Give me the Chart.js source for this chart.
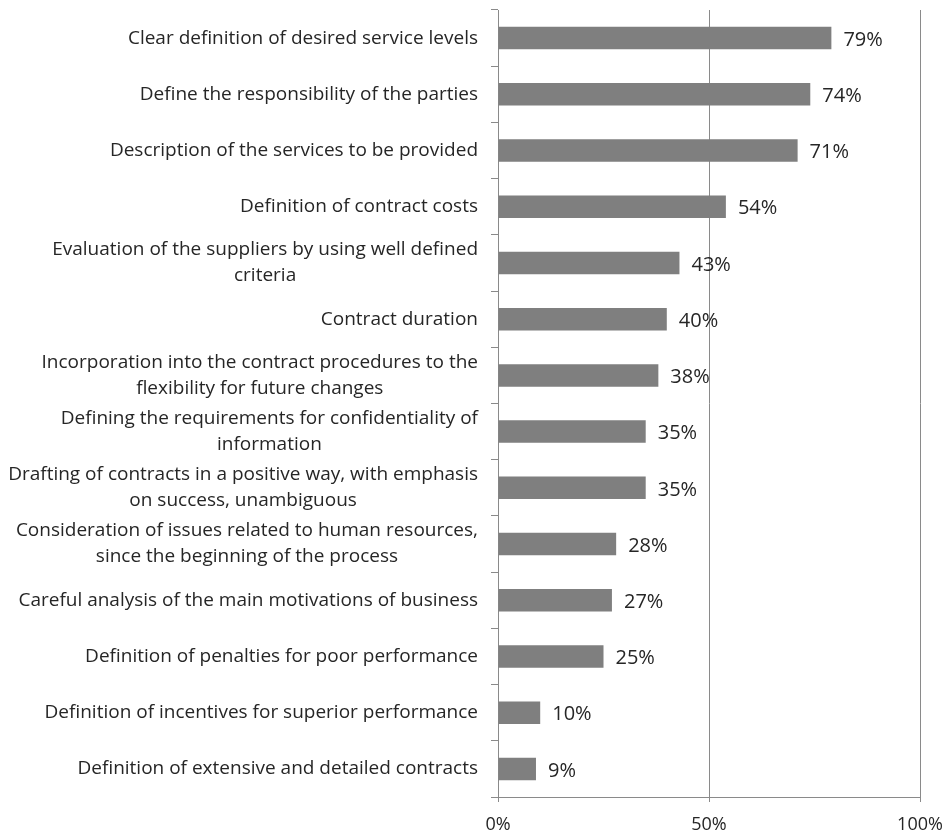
<!DOCTYPE html>
<html>
<head>
<meta charset="utf-8">
<script src="https://cdn.jsdelivr.net/npm/chart.js@4"></script>
<style>
  html, body { margin: 0; padding: 0; background: #fff; }
  #wrap { width: 952px; height: 833px; position: relative; }
</style>
</head>
<body>
<div id="wrap"><canvas id="contractChart"></canvas></div>
<script>
// categories (each entry is the lines of one label)
const categories = [
  ["Clear definition of desired service levels"],
  ["Define the responsibility of the parties"],
  ["Description of the services to be provided"],
  ["Definition of contract costs"],
  ["Evaluation of the suppliers by using well defined", "criteria"],
  ["Contract duration"],
  ["Incorporation into the contract procedures to the", "flexibility for future changes"],
  ["Defining the requirements for confidentiality of", "information"],
  ["Drafting of contracts in a positive way, with emphasis", "on success, unambiguous"],
  ["Consideration of issues related to human resources,", "since the beginning of the process"],
  ["Careful analysis of the main motivations of business"],
  ["Definition of penalties for poor performance"],
  ["Definition of incentives for superior performance"],
  ["Definition of extensive and detailed contracts"]
];
const percentValues = [79, 74, 71, 54, 43, 40, 38, 35, 35, 28, 27, 25, 10, 9];
const xTicks = [0, 50, 100];

const FONT = "'Open Sans', sans-serif";
const TEXT_COLOR = "#262626";
const LINE_COLOR = "#8a8a8a";

// draws the category labels: lines centered on each other, block right-aligned
const categoryLabels = {
  id: "categoryLabels",
  afterDraw(chart) {
    const ctx = chart.ctx;
    const yScale = chart.scales.y;
    const right = chart.chartArea.left - 20;
    const lineHeight = 26;
    ctx.save();
    ctx.font = "19px " + FONT;
    ctx.fillStyle = TEXT_COLOR;
    ctx.textAlign = "center";
    ctx.textBaseline = "middle";
    categories.forEach((lines, i) => {
      const y = yScale.getPixelForValue(i);
      const widest = Math.max(...lines.map((l) => ctx.measureText(l).width));
      const cx = right - widest / 2;
      lines.forEach((line, j) => {
        ctx.fillText(line, cx, y + (j - (lines.length - 1) / 2) * lineHeight);
      });
    });
    ctx.restore();
  },
};

// value labels right of each bar
const valueLabels = {
  id: "valueLabels",
  afterDatasetsDraw(chart) {
    const ctx = chart.ctx;
    const meta = chart.getDatasetMeta(0);
    ctx.save();
    ctx.font = "20px " + FONT;
    ctx.fillStyle = TEXT_COLOR;
    ctx.textAlign = "left";
    ctx.textBaseline = "middle";
    meta.data.forEach((bar, i) => {
      ctx.fillText(percentValues[i] + "%", bar.x + 12, bar.y + 2);
    });
    ctx.restore();
  },
};

const chartCanvas = document.getElementById("contractChart").getContext("2d");

new Chart(chartCanvas, {
  type: "bar",
  data: {
    labels: categories.map((c) => c.join(" ")),
    datasets: [
      {
        data: percentValues,
        backgroundColor: "#7f7f7f",
        borderWidth: 0,
        barPercentage: 0.8,
        categoryPercentage: 0.5,
      },
    ],
  },
  options: {
    indexAxis: "y",
    responsive: true,
    maintainAspectRatio: false,
    animation: false,
    layout: { padding: { top: 10, right: 32, left: 0, bottom: 0 } },
    plugins: {
      legend: { display: false },
      tooltip: { enabled: false },
    },
    scales: {
      x: {
        min: 0,
        max: 100,
        afterBuildTicks: (scale) => {
          scale.ticks = xTicks.map((v) => ({ value: v }));
        },
        afterFit: (scale) => {
          scale.height = 36;
          scale.paddingLeft = 0;
          scale.paddingRight = 0;
        },
        ticks: {
          callback: (v) => v + "%",
          color: TEXT_COLOR,
          font: { family: FONT, size: 18 },
          padding: 12,
          maxRotation: 0,
        },
        grid: {
          color: LINE_COLOR,
          lineWidth: 1,
          tickLength: 5,
        },
        border: { color: LINE_COLOR, width: 1 },
      },
      y: {
        afterFit: (scale) => {
          scale.width = 498;
        },
        ticks: { display: false },
        grid: {
          offset: true,
          drawOnChartArea: false,
          color: LINE_COLOR,
          tickLength: 7,
        },
        border: { color: LINE_COLOR, width: 1 },
      },
    },
  },
  plugins: [categoryLabels, valueLabels],
});
</script>
</body>
</html>
